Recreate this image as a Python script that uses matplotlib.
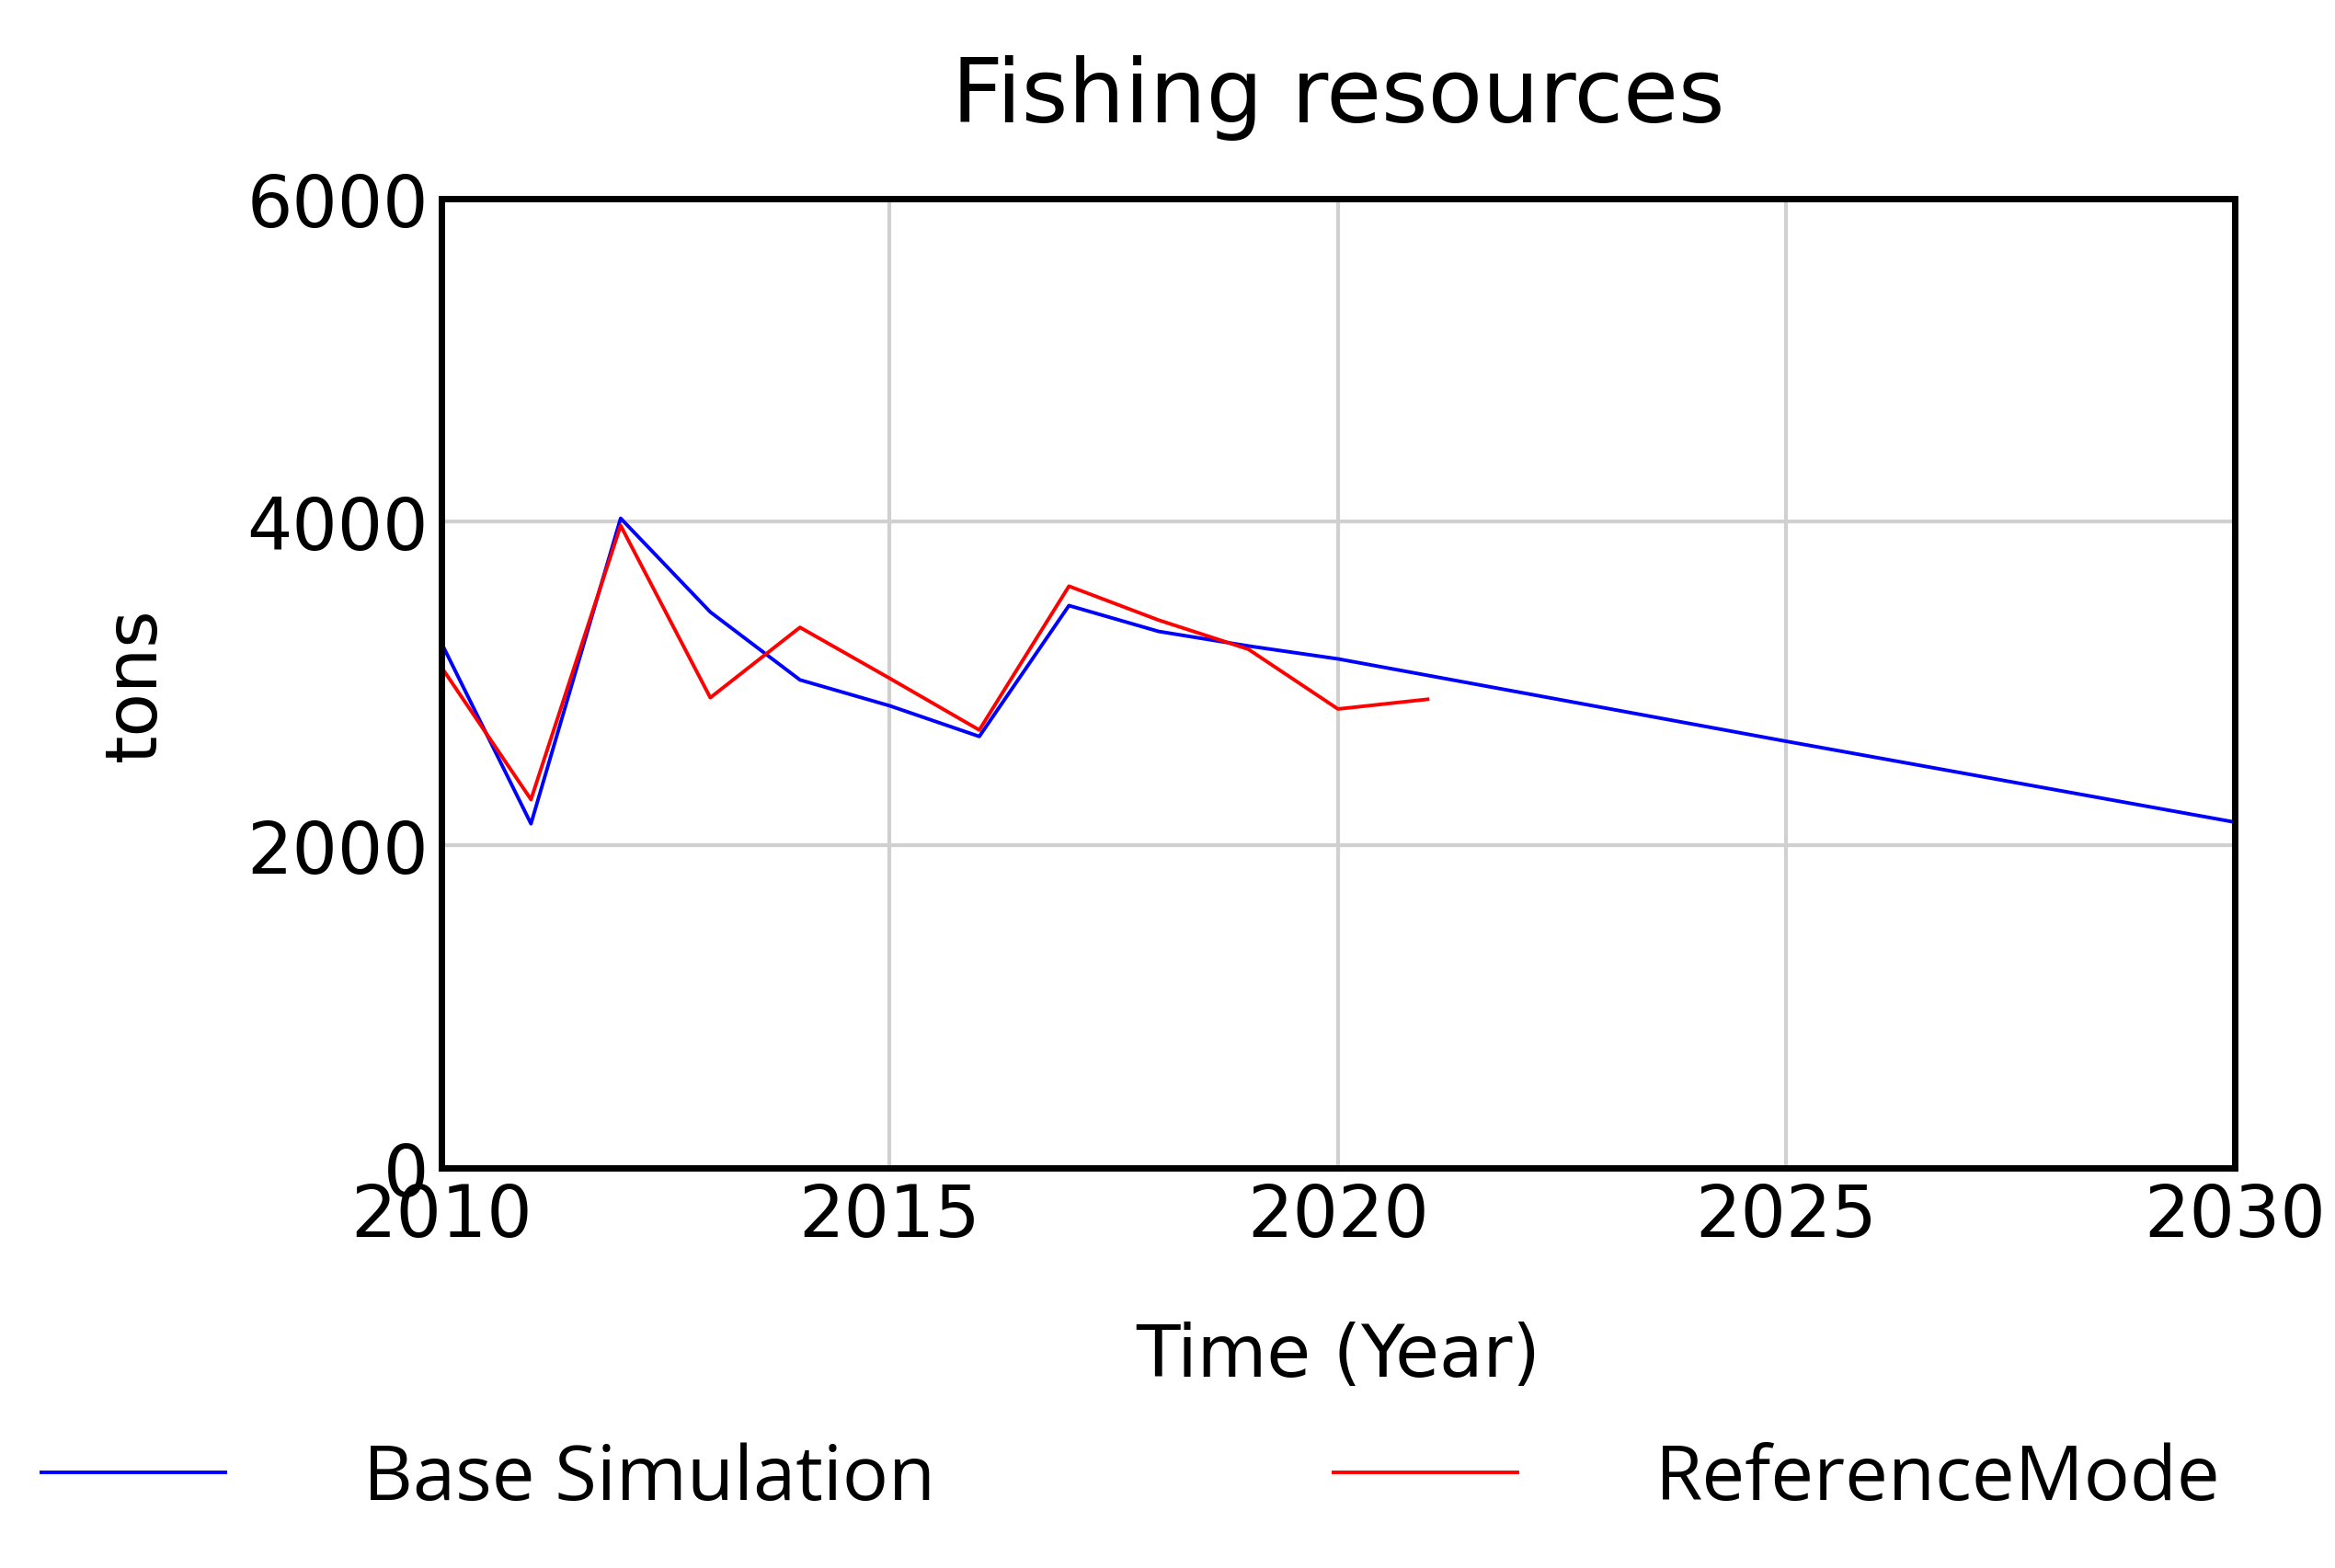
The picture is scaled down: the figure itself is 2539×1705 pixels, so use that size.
import matplotlib
matplotlib.use('Agg')
from matplotlib import pyplot as plt

years_base = [2010, 2011, 2012, 2013, 2014, 2015, 2016, 2017, 2018, 2019, 2020, 2025, 2030]
base_sim = [3250, 2130, 4020, 3440, 3020, 2860, 2670, 3480, 3320, 3230, 3150, 2640, 2140]

years_ref = [2010, 2011, 2012, 2013, 2014, 2015, 2016, 2017, 2018, 2019, 2020, 2021]
ref_mode = [3100, 2280, 3975, 2910, 3345, 3030, 2710, 3600, 3390, 3210, 2840, 2900]

fig = plt.figure(figsize=(25.39, 17.06), dpi=100)
ax = fig.add_axes([0.189, 0.255, 0.768, 0.618])

ax.plot(years_base, base_sim, color='#0000ff', lw=2.8, label='Base Simulation')
ax.plot(years_ref, ref_mode, color='#ff0000', lw=2.8, label='ReferenceMode')

ax.set_xlim(2010, 2030)
ax.set_ylim(0, 6000)
ax.set_xticks([2010, 2015, 2020, 2025, 2030])
ax.set_yticks([0, 2000, 4000, 6000])
ax.grid(True, color='#d0d0d0', lw=3)
ax.set_axisbelow(True)
for s in ax.spines.values():
    s.set_linewidth(5)
ax.tick_params(length=0, labelsize=56, pad=10)
ax.set_title('Fishing resources', fontsize=70, pad=60)
ax.set_xlabel('Time (Year)', fontsize=56, labelpad=55)
ax.set_ylabel('tons', fontsize=56, labelpad=60)

fig.legend(loc='lower left', bbox_to_anchor=(-0.012, -0.012), ncol=2, frameon=False,
           handlelength=2.4, handletextpad=1.8, columnspacing=5.2,
           prop={'family': 'Open Sans', 'size': 60})

fig.savefig('out.png', dpi=100)
